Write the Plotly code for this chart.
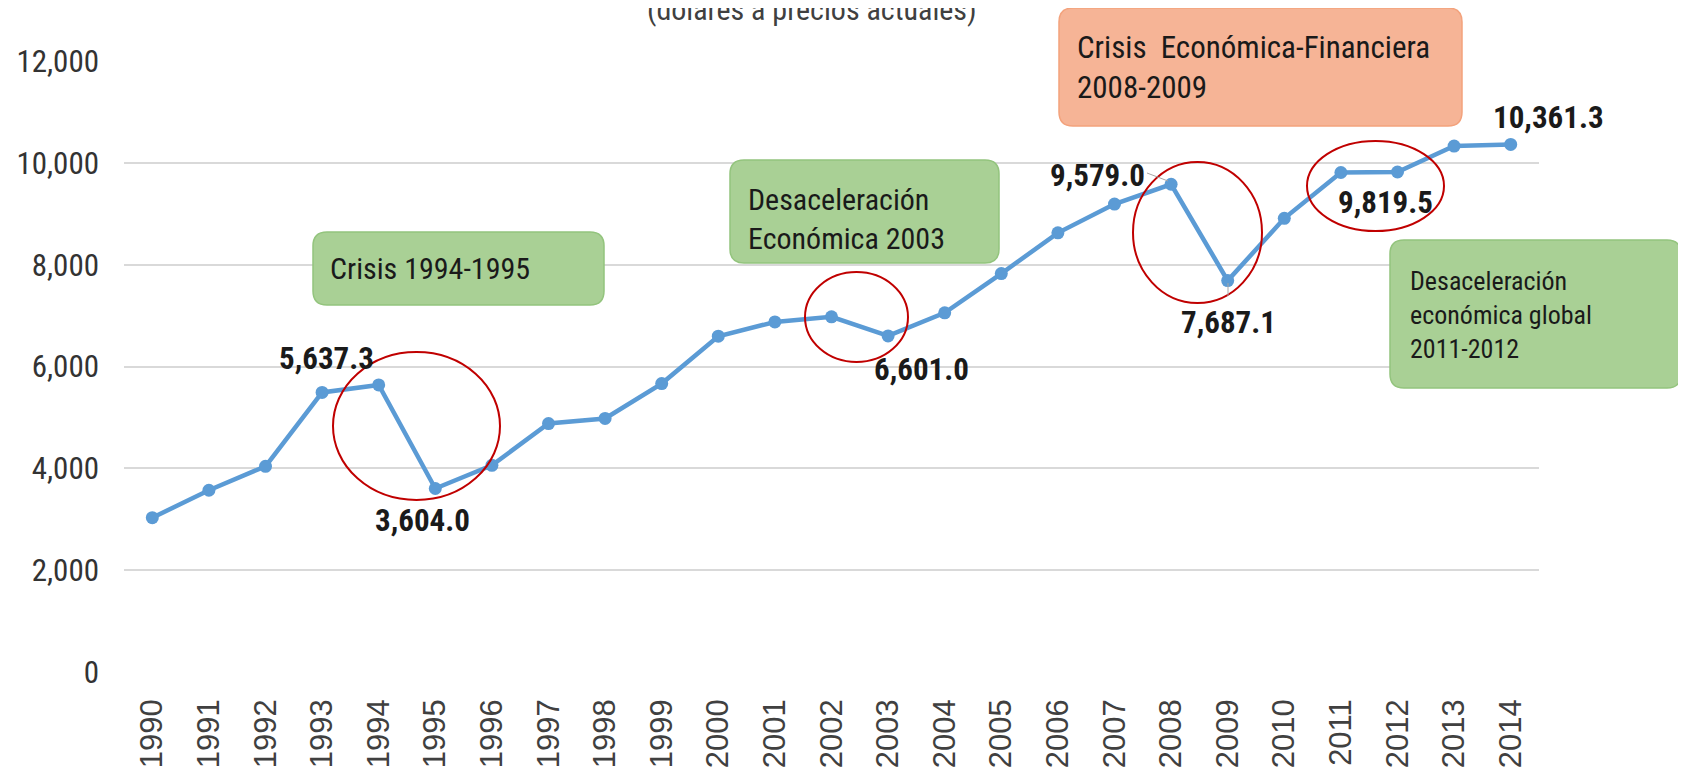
import plotly.graph_objects as go

years = [str(y) for y in range(1990, 2015)]
values = [3030, 3570, 4040, 5490, 5637.3, 3604.0, 4060, 4880, 4980, 5665,
          6595, 6875, 6975, 6601.0, 7055, 7825, 8625, 9190, 9579.0, 7687.1,
          8910, 9810, 9819.5, 10330, 10361.3]
y_ticks = [0, 2000, 4000, 6000, 8000, 10000, 12000]

# labelled points: year -> (xshift, yshift) in px
labelled = {"1994": (-52, 26), "1995": (-13, -32), "2003": (33, -34),
            "2008": (-74, 9), "2009": (1, -42), "2012": (-12, -30),
            "2014": (38, 27)}

NARROW = "Liberation Sans Narrow, Arial Narrow, Roboto Condensed, Liberation Sans"
OFF = 8  # the page body adds an 8px margin around the figure
W, H = 1686 - OFF, 783 - OFF
PL, PR, PT, PB = 124, 1539, 61, 672  # plot area, in screenshot pixels


def px(x):
    return (x - PL) / (PR - PL)


def py(y):
    return (PB - y) / (PB - PT)


def rounded_box(x0, y0, x1, y1, r=14):
    rx, ry = r / (PR - PL), r / (PB - PT)
    a, b, c, d = px(x0), px(x1), py(y0), py(y1)  # c top, d bottom
    return (f"M{a + rx},{c} L{b - rx},{c} Q{b},{c} {b},{c - ry} "
            f"L{b},{d + ry} Q{b},{d} {b - rx},{d} L{a + rx},{d} "
            f"Q{a},{d} {a},{d + ry} L{a},{c - ry} Q{a},{c} {a + rx},{c} Z")


fig = go.Figure()
fig.add_trace(go.Scatter(
    x=years, y=values, mode="lines+markers",
    line=dict(color="#5b9bd5", width=4.5),
    marker=dict(color="#5b9bd5", size=13),
    hoverinfo="x+y", showlegend=False,
))

shapes = []
annotations = []

# callout boxes
boxes = [
    ((313, 232, 604, 305), "#a9d095", "#93c47d", "Crisis 1994-1995", (328, 268), 30),
    ((730, 160, 999, 263), "#a9d095", "#93c47d",
     "Desaceleración<br>Económica 2003", (746, 219), 30),
    ((1059, 8, 1462, 126), "#f6b496", "#f3a27c",
     "Crisis\u00a0 Económica-Financiera<br>2008-2009", (1075, 67), 31),
    ((1390, 240, 1681, 388), "#a9d095", "#93c47d",
     "Desaceleración<br>económica global<br>2011-2012", (1408, 315), 26),
]
for (x0, y0, x1, y1), fill, edge, text, (tx, ty), size in boxes:
    shapes.append(dict(type="path", xref="paper", yref="paper",
                       path=rounded_box(x0, y0, x1, y1),
                       fillcolor=fill, line=dict(color=edge, width=1.5),
                       layer="above"))
    annotations.append(dict(xref="paper", yref="paper", x=px(tx), y=py(ty),
                            xanchor="left", yanchor="middle", align="left",
                            text=text, showarrow=False,
                            font=dict(family=NARROW, size=size, color="#1a1a1a")))

# red ellipses
for x0, y0, x1, y1 in [(333, 352, 500, 500), (805, 272, 908, 362),
                       (1133, 162, 1262, 303), (1307, 141, 1444, 231)]:
    shapes.append(dict(type="circle", xref="paper", yref="paper",
                       x0=px(x0), x1=px(x1), y0=py(y1), y1=py(y0),
                       line=dict(color="#c00000", width=2), layer="above"))

# leader lines
for x0, y0, x1, y1 in [(1147, 173, 1168, 181), (1228, 283, 1228, 296)]:
    shapes.append(dict(type="line", xref="paper", yref="paper",
                       x0=px(x0), x1=px(x1), y0=py(y0), y1=py(y1),
                       line=dict(color="#a6a6a6", width=1)))

# data labels (category axis -> use the category index)
for yr, (dx, dy) in labelled.items():
    i = years.index(yr)
    v = values[i]
    annotations.append(dict(x=i, y=v, xref="x", yref="y", showarrow=False,
                            text=f"<b>{v:,.1f}</b>", xshift=dx, yshift=dy,
                            font=dict(family=NARROW, size=31, color="#1a1a1a")))

# subtitle, cut at the top of the image like in the source
annotations.append(dict(xref="paper", yref="paper", x=px(812), y=py(21),
                        xanchor="center", yanchor="bottom", yshift=-8,
                        text="(dólares a precios actuales)", showarrow=False,
                        font=dict(family=NARROW, size=30, color="#404040")))

fig.update_layout(
    width=W, height=H,
    margin=dict(l=PL - OFF, r=W - (PR - OFF), t=PT - OFF, b=H - (PB - OFF),
                autoexpand=False),
    plot_bgcolor="white", paper_bgcolor="white",
    shapes=shapes, annotations=annotations,
    xaxis=dict(type="category", range=[-0.5, 24.5], showgrid=False,
               showline=False, zeroline=False, tickangle=-90,
               ticklabelstandoff=20,
               tickfont=dict(family="Liberation Sans, Arial", size=31, color="#404040")),
    yaxis=dict(range=[0, 12000], tickvals=y_ticks, tickformat=",",
               showgrid=True, gridcolor="#d9d9d9", gridwidth=1.5,
               zeroline=False, showline=False, ticklabelstandoff=24,
               tickfont=dict(family=NARROW, size=31, color="#333333")),
)

fig.write_html("out.html")
